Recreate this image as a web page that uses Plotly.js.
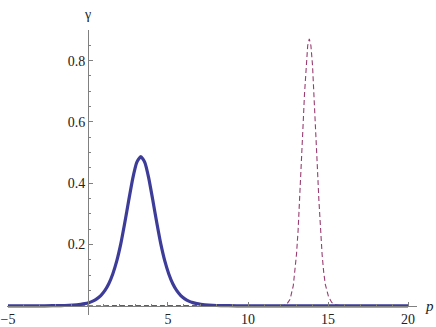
<!DOCTYPE html>
<html><head><meta charset="utf-8">
<script src="https://cdn.plot.ly/plotly-3.0.1.min.js"></script>
<style>html,body{margin:0;padding:0;background:#fff}#chart{width:436px;height:327px}</style>
</head><body><div id="chart"></div>
<script>
// Solid curve (blue)
const pSolid = [-5, -2.7, -1.7, -1.2, -0.7, -0.45, -0.2, 0.05, 0.3, 0.55, 0.8, 1.05, 1.3, 1.55, 1.8, 2.05, 2.3, 2.55, 2.8, 3.05, 3.3, 3.55, 3.8, 4.05, 4.3, 4.55, 4.8, 5.05, 5.3, 5.55, 5.8, 6.05, 6.3, 6.55, 6.8, 7.05, 7.3, 7.8, 8.3, 9.3, 10.3, 15, 20];
const gammaSolid = [0, 0.0001, 0.0006, 0.0014, 0.0031, 0.00465, 0.0069, 0.0103, 0.0152, 0.0227, 0.0334, 0.0494, 0.072, 0.104, 0.1465, 0.202, 0.271, 0.345, 0.416, 0.468, 0.487, 0.468, 0.416, 0.345, 0.271, 0.202, 0.1465, 0.104, 0.072, 0.0494, 0.0334, 0.0227, 0.0152, 0.0103, 0.0069, 0.00465, 0.0031, 0.0014, 0.0006, 0.0001, 0, 0, 0];
// Dashed curve (purple)
const pDashed = [-5, 5, 10, 11.83, 12.03, 12.23, 12.43, 12.63, 12.83, 12.93, 13.03, 13.13, 13.23, 13.33, 13.43, 13.53, 13.63, 13.73, 13.83, 13.93, 14.03, 14.13, 14.23, 14.33, 14.43, 14.53, 14.63, 14.73, 14.83, 15.03, 15.23, 15.43, 15.63, 15.83, 16.5, 20];
const gammaDashed = [0, 0, 0, 0, 0.0002, 0.0012, 0.0056, 0.0213, 0.066, 0.108, 0.168, 0.246, 0.344, 0.457, 0.577, 0.691, 0.786, 0.849, 0.871, 0.849, 0.786, 0.691, 0.577, 0.457, 0.344, 0.246, 0.168, 0.11, 0.07, 0.03, 0.011, 0.0035, 0.001, 0.0002, 0, 0];
const xTickVals = [-5, 5, 10, 15, 20];
const xTickText = ['\u22125', '5', '10', '15', '20'];
const yTickVals = [0.2, 0.4, 0.6, 0.8];
const yTickText = ['0.2', '0.4', '0.6', '0.8'];

const xr = [-5.06, 20.56], yr = [-0.03, 0.9];
const axisColor = '#808080';
const font = {family: 'Liberation Serif', size: 14, color: '#222'};

const traces = [
  {x: pDashed, y: gammaDashed, mode: 'lines', line: {color: '#993d71', width: 1.1, dash: '5px,3px'}, hoverinfo: 'skip'},
  {x: pSolid, y: gammaSolid, mode: 'lines', line: {color: '#3d3d99', width: 3.2, shape: 'spline', smoothing: 0.5}, hoverinfo: 'skip'}
];
const layout = {
  width: 436, height: 327,
  margin: {l: 7, r: 19, t: 30, b: 12},
  paper_bgcolor: '#fff', plot_bgcolor: '#fff',
  showlegend: false, font: font,
  xaxis: {
    range: xr, anchor: 'free', position: (0 - yr[0]) / (yr[1] - yr[0]),
    showline: true, linecolor: axisColor, linewidth: 1,
    showgrid: false, zeroline: false,
    tickmode: 'array', tickvals: xTickVals, ticktext: xTickText,
    ticks: 'inside', ticklen: 4, tickcolor: axisColor, tickwidth: 1,
    minor: {dtick: 1, tick0: 0, ticks: 'inside', ticklen: 2, tickcolor: axisColor, showgrid: false},
    tickfont: font
  },
  yaxis: {
    range: yr, anchor: 'free', position: (0 - xr[0]) / (xr[1] - xr[0]),
    showline: true, linecolor: axisColor, linewidth: 1,
    showgrid: false, zeroline: false,
    tickmode: 'array', tickvals: yTickVals, ticktext: yTickText,
    ticks: 'inside', ticklen: 4, tickcolor: axisColor, tickwidth: 1,
    minor: {dtick: 0.05, tick0: 0, ticks: 'inside', ticklen: 2, tickcolor: axisColor, showgrid: false},
    tickfont: font
  },
  annotations: [
    {text: '\u03b3', xref: 'x', x: 0, yref: 'paper', y: 1, yanchor: 'bottom', xanchor: 'center', yshift: 6, showarrow: false, font: {family: 'Liberation Serif', size: 14, color: '#222'}},
    {text: '<i>p</i>', xref: 'paper', x: 1, xanchor: 'left', xshift: 6, yref: 'y', y: 0, yanchor: 'middle', showarrow: false, font: {family: 'Liberation Serif', size: 15, color: '#222'}}
  ]
};
Plotly.newPlot('chart', traces, layout, {displayModeBar: false, staticPlot: true});
</script></body></html>
